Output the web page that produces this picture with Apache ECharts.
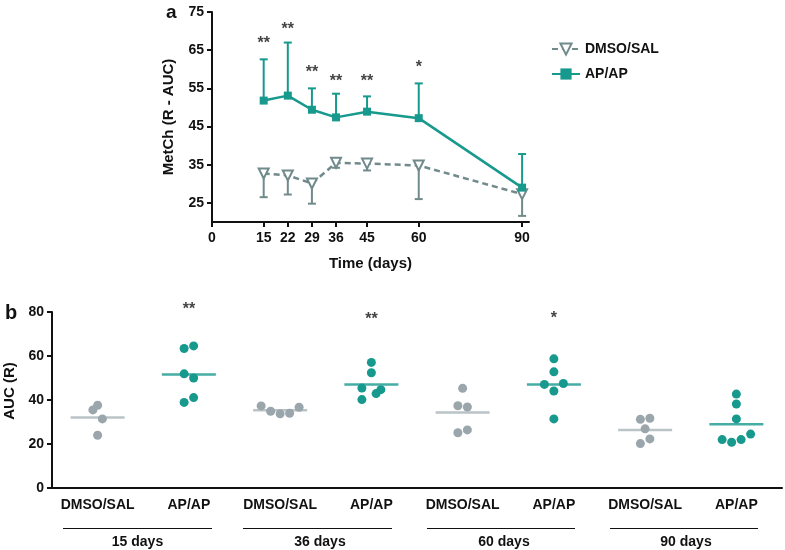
<!DOCTYPE html>
<html>
<head>
<meta charset="utf-8">
<script src="https://cdn.jsdelivr.net/npm/echarts@6/dist/echarts.min.js"></script>
<style>
html,body{margin:0;padding:0;background:#fff;}
#c{width:785px;height:550px;}
</style>
</head>
<body>
<div id="c"></div>
<script>
// ---------- Panel a data ----------
var days = [15, 22, 29, 36, 45, 60, 90];
var xTicks = [0, 15, 22, 29, 36, 45, 60, 90];
var yTicksA = [25, 35, 45, 55, 65, 75];
var apMean = [51.8, 53.1, 49.4, 47.4, 48.9, 47.2, 29.0];
var apErr  = [62.6, 67.0, 55.0, 53.6, 52.9, 56.3, 37.8];
var dmsoMean = [32.7, 32.2, 30.1, 35.5, 35.3, 34.8, 27.3];
var dmsoErr  = [26.5, 27.2, 24.8, 34.2, 33.5, 26.0, 21.6];
var starDaysA = [15, 22, 29, 36, 45, 60];
var starTextA = ['**', '**', '**', '**', '**', '*'];
var starPosA = [66.6, 70.3, 59.1, 56.9, 56.7, 60.4];

// ---------- Panel b data ----------
var catsB = ['DMSO/SAL', 'AP/AP', 'DMSO/SAL', 'AP/AP', 'DMSO/SAL', 'AP/AP', 'DMSO/SAL', 'AP/AP'];
var groupsB = ['15 days', '36 days', '60 days', '90 days'];
var dmso15 = [35.5, 37.6, 31.4, 24.0];
var ap15   = [63.4, 64.6, 51.9, 50.0, 38.9, 41.1];
var dmso36 = [37.3, 34.9, 33.7, 34.0, 36.7];
var ap36   = [57.1, 52.4, 45.4, 44.7, 42.9, 40.2];
var dmso60 = [45.3, 37.4, 36.8, 25.1, 26.4];
var ap60   = [58.7, 52.8, 47.1, 47.5, 44.1, 31.4];
var dmso90 = [31.2, 31.7, 26.9, 22.3, 20.2];
var ap90   = [42.7, 38.2, 31.4, 24.5, 22.0, 20.8, 22.0];
// horizontal jitter of each dot (in dot slots)
var jit15d = [-1, 0, 1, 0];
var jit15a = [-1, 1, -1, 1, -1, 1];
var jit36d = [-4, -2, 0, 2, 4];
var jit36a = [0, 0, -2, 2, 1, -2];
var jit60d = [0, -1, 1, -1, 1];
var jit60a = [0, 0, -2, 2, 0, 0];
var jit90d = [-1, 1, 0, 1, -1];
var jit90a = [0, 0, 0, 3, 1, -1, -3];
var meansB = [32.1, 51.6, 35.3, 47.1, 34.3, 47.1, 26.4, 29.0];
var starCatB = [1, 3, 5];
var starTextB = ['**', '**', '*'];
var starPosB = [81.0, 76.5, 77.0];

// ---------- styles ----------
var TEAL = '#17998d';
var GRAYL = '#718a8b';
var GRAYDOT = '#9aa6ac';
var GRAYMEAN = '#a9b5b9';
var FONT = 'Liberation Sans';
var SLOT = 0.052;

function zip(xs, ys) { return xs.map(function (x, i) { return [x, ys[i]]; }); }
function errData(m, e) { return days.map(function (d, i) { return [d, m[i], e[i]]; }); }
function errRender(color) {
  return function (params, api) {
    var x = api.value(0), m = api.value(1), e = api.value(2);
    var p1 = api.coord([x, m]), p2 = api.coord([x, e]);
    var hw = 4;
    return { type: 'group', children: [
      { type: 'line', shape: { x1: p1[0], y1: p1[1], x2: p2[0], y2: p2[1] }, style: { stroke: color, lineWidth: 2 } },
      { type: 'line', shape: { x1: p2[0] - hw, y1: p2[1], x2: p2[0] + hw, y2: p2[1] }, style: { stroke: color, lineWidth: 2 } }
    ]};
  };
}
function dots(gi, vals, jit) { return vals.map(function (v, i) { return [gi + jit[i] * SLOT, v]; }); }

var dmsoDots = [].concat(dots(0, dmso15, jit15d), dots(2, dmso36, jit36d), dots(4, dmso60, jit60d), dots(6, dmso90, jit90d));
var apDots = [].concat(dots(1, ap15, jit15a), dots(3, ap36, jit36a), dots(5, ap60, jit60a), dots(7, ap90, jit90a));

var axisTxt = { color: '#111', fontFamily: FONT, fontWeight: 'bold', fontSize: 14 };
var starLabel = { show: true, position: 'inside', fontFamily: FONT, fontWeight: 'bold', fontSize: 16, color: '#111' };

var option = {
  animation: false,
  textStyle: { fontFamily: FONT },
  grid: [
    { left: 212, top: 12, width: 317, height: 210, outerBoundsMode: 'none' },
    { left: 52, top: 312, width: 730, height: 176, outerBoundsMode: 'none' }
  ],
  legend: {
    data: ['DMSO/SAL', 'AP/AP'],
    orient: 'vertical', left: 546, top: 37, itemGap: 11,
    itemWidth: 28, itemHeight: 14,
    textStyle: { fontFamily: FONT, fontWeight: 'bold', fontSize: 14, color: '#111' }
  },
  xAxis: [
    {
      gridIndex: 0, type: 'value', min: 0, max: 92,
      name: 'Time (days)', nameLocation: 'middle', nameGap: 34,
      nameTextStyle: { fontFamily: FONT, fontWeight: 'bold', fontSize: 15, color: '#111' },
      axisLine: { onZero: false, lineStyle: { color: '#111', width: 2 } },
      axisTick: { show: true, length: 5, lineStyle: { width: 2, color: '#111' }, customValues: xTicks },
      axisLabel: Object.assign({ margin: 9, customValues: xTicks }, axisTxt),
      splitLine: { show: false }
    },
    {
      gridIndex: 1, type: 'category', data: catsB,
      axisLine: { onZero: false, lineStyle: { color: '#111', width: 2 } },
      axisTick: { alignWithLabel: true, length: 5, lineStyle: { width: 2, color: '#111' } },
      axisLabel: Object.assign({ margin: 10, interval: 0 }, axisTxt)
    },
    {
      gridIndex: 1, type: 'value', min: -0.5, max: 7.5, show: false
    }
  ],
  yAxis: [
    {
      gridIndex: 0, type: 'value', min: 20, max: 75,
      name: 'MetCh (R - AUC)', nameLocation: 'middle', nameGap: 36,
      nameTextStyle: { fontFamily: FONT, fontWeight: 'bold', fontSize: 15, color: '#111' },
      axisLine: { show: true, onZero: false, lineStyle: { color: '#111', width: 2 } },
      axisTick: { show: true, length: 5, lineStyle: { width: 2, color: '#111' }, customValues: yTicksA },
      axisLabel: Object.assign({ margin: 8, customValues: yTicksA }, axisTxt),
      splitLine: { show: false }
    },
    {
      gridIndex: 1, type: 'value', min: 0, max: 80, interval: 20,
      name: 'AUC (R)', nameLocation: 'middle', nameGap: 35,
      nameTextStyle: { fontFamily: FONT, fontWeight: 'bold', fontSize: 15, color: '#111', padding: [0, 0, 0, 18] },
      axisLine: { show: true, onZero: false, lineStyle: { color: '#111', width: 2 } },
      axisTick: { show: true, length: 5, lineStyle: { width: 2, color: '#111' } },
      axisLabel: Object.assign({ margin: 8 }, axisTxt),
      splitLine: { show: false }
    }
  ],
  graphic: [
    { type: 'text', left: 166, top: 3, style: { text: 'a', font: 'bold 19px "Liberation Sans"', fill: '#111' } },
    { type: 'text', left: 5, top: 303, style: { text: 'b', font: 'bold 20px "Liberation Sans"', fill: '#111' } },
    { type: 'line', shape: { x1: 63, y1: 528.5, x2: 212, y2: 528.5 }, style: { stroke: '#111', lineWidth: 1 } },
    { type: 'line', shape: { x1: 243, y1: 528.5, x2: 392, y2: 528.5 }, style: { stroke: '#111', lineWidth: 1 } },
    { type: 'line', shape: { x1: 427, y1: 528.5, x2: 575, y2: 528.5 }, style: { stroke: '#111', lineWidth: 1 } },
    { type: 'line', shape: { x1: 610, y1: 528.5, x2: 758, y2: 528.5 }, style: { stroke: '#111', lineWidth: 1 } },
    { type: 'text', x: 137.5, y: 542, style: { text: groupsB[0], font: 'bold 14px "Liberation Sans"', fill: '#111', align: 'center', verticalAlign: 'middle' } },
    { type: 'text', x: 320, y: 542, style: { text: groupsB[1], font: 'bold 14px "Liberation Sans"', fill: '#111', align: 'center', verticalAlign: 'middle' } },
    { type: 'text', x: 504, y: 542, style: { text: groupsB[2], font: 'bold 14px "Liberation Sans"', fill: '#111', align: 'center', verticalAlign: 'middle' } },
    { type: 'text', x: 686, y: 542, style: { text: groupsB[3], font: 'bold 14px "Liberation Sans"', fill: '#111', align: 'center', verticalAlign: 'middle' } }
  ],
  series: [
    {
      type: 'custom', name: 'errAP', xAxisIndex: 0, yAxisIndex: 0, z: 1,
      renderItem: errRender(TEAL), data: errData(apMean, apErr)
    },
    {
      type: 'custom', name: 'errDMSO', xAxisIndex: 0, yAxisIndex: 0, z: 1,
      renderItem: errRender(GRAYL), data: errData(dmsoMean, dmsoErr)
    },
    {
      type: 'line', name: 'DMSO/SAL', xAxisIndex: 0, yAxisIndex: 0, z: 3,
      data: zip(days, dmsoMean),
      symbol: 'triangle', symbolRotate: 180, symbolSize: 10,
      lineStyle: { color: GRAYL, width: 2.5, type: [6, 4] },
      itemStyle: { color: '#fff', borderColor: GRAYL, borderWidth: 2 }
    },
    {
      type: 'line', name: 'AP/AP', xAxisIndex: 0, yAxisIndex: 0, z: 4,
      data: zip(days, apMean),
      symbol: 'rect', symbolSize: 8,
      lineStyle: { color: TEAL, width: 2.5 },
      itemStyle: { color: TEAL }
    },
    {
      type: 'scatter', name: 'starsA', xAxisIndex: 0, yAxisIndex: 0, symbolSize: 0, clip: false,
      data: starDaysA.map(function (d, i) { return { value: [d, starPosA[i]], label: { formatter: starTextA[i] } }; }),
      label: starLabel
    },
    {
      type: 'scatter', name: 'dotsDMSO', xAxisIndex: 2, yAxisIndex: 1, symbolSize: 9,
      itemStyle: { color: GRAYDOT, opacity: 1 }, data: dmsoDots
    },
    {
      type: 'scatter', name: 'dotsAP', xAxisIndex: 2, yAxisIndex: 1, symbolSize: 9,
      itemStyle: { color: TEAL, opacity: 1 }, data: apDots
    },
    {
      type: 'scatter', name: 'means', xAxisIndex: 2, yAxisIndex: 1, z: 1,
      symbol: 'rect', symbolSize: [54, 2.5],
      data: meansB.map(function (m, i) { return { value: [i, m], itemStyle: { color: i % 2 ? TEAL : GRAYMEAN } }; })
    },
    {
      type: 'scatter', name: 'starsB', xAxisIndex: 2, yAxisIndex: 1, symbolSize: 0, clip: false,
      data: starCatB.map(function (c, i) { return { value: [c, starPosB[i]], label: { formatter: starTextB[i] } }; }),
      label: starLabel
    }
  ]
};
var chart = echarts.init(document.getElementById('c'), null, { renderer: 'canvas' });
chart.setOption(option);
</script>
</body>
</html>
